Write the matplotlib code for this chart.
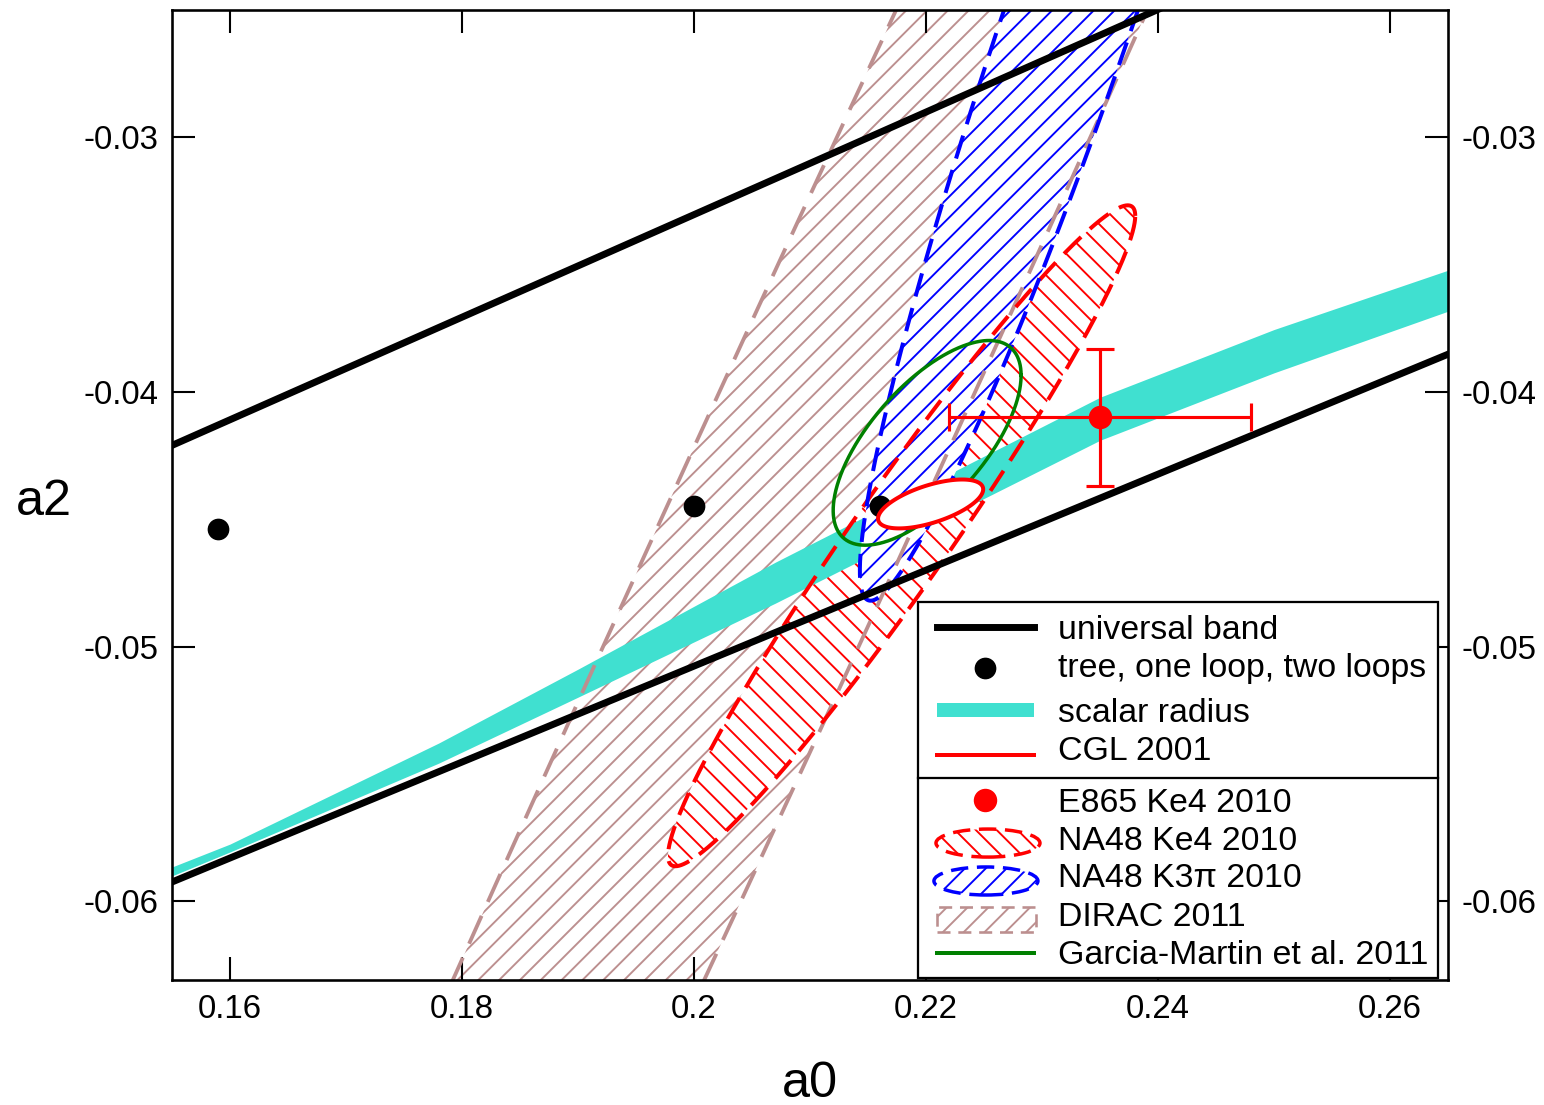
import numpy as np
import matplotlib
matplotlib.use('Agg')
import matplotlib.pyplot as plt
from matplotlib.patches import Rectangle, Ellipse
from matplotlib.lines import Line2D

plt.rcParams['font.family'] = ['Liberation Sans', 'DejaVu Sans']
plt.rcParams['hatch.linewidth'] = 1.1
plt.rcParams['axes.unicode_minus'] = False

# === DATA ===
# universal band (upper and lower edge)
upper_a0 = [0.155, 0.2394, 0.265]
upper_a2 = [-0.0421, -0.0251, -0.0199]
lower_a0 = [0.155, 0.265]
lower_a2 = [-0.05925, -0.03852]

# scalar radius band
sr_a0 = [0.155, 0.160, 0.178, 0.190, 0.207, 0.235, 0.250, 0.265]
sr_hi = [-0.05866, -0.05776, -0.05379, -0.05089, -0.04669, -0.04021, -0.03755, -0.03522]
sr_lo = [-0.05901, -0.05807, -0.05458, -0.05199, -0.04830, -0.04190, -0.03925, -0.03683]

# tree, one loop, two loops
chpt_a0 = [0.159, 0.200, 0.216]
chpt_a2 = [-0.0454, -0.0445, -0.0445]

# E865 Ke4 2010
e865_a0 = 0.235
e865_a2 = -0.0410
e865_da0 = 0.013
e865_da2 = 0.0027

# ellipses: centre a0, centre a2, sigma a0, sigma a2, correlation
cgl = [0.2204, -0.0444, 0.00453, 0.00096, 0.60]
garcia = [0.2201, -0.0420, 0.0081, 0.00402, 0.66]
na48_ke4 = [0.2179, -0.04565, 0.02014, 0.01298, 0.968]
na48_k3pi = [0.2328, -0.0246, 0.0185, 0.0236, 0.950]
dirac = [0.2091, -0.0441, 0.1009, 0.1000, 0.994]

xticks = [0.16, 0.18, 0.20, 0.22, 0.24, 0.26]
xticklabels = ['0.16', '0.18', '0.2', '0.22', '0.24', '0.26']
yticks = [-0.06, -0.05, -0.04, -0.03]
yticklabels = ['-0.06', '-0.05', '-0.04', '-0.03']


def ellipse_xy(c, n=6000):
    x0, y0, sx, sy, rho = c
    t = np.linspace(0, 2 * np.pi, n)
    x = x0 + sx * np.cos(t)
    y = y0 + sy * (rho * np.cos(t) + np.sqrt(1 - rho ** 2) * np.sin(t))
    return x, y


# === PLOT ===
fig = plt.figure(figsize=(12.352, 8.84), dpi=125)
ax = fig.add_axes([0.1114, 0.1131, 0.8264, 0.8778])

# DIRAC (hatch only)
dx, dy = ellipse_xy(dirac)
ax.fill(dx, dy, facecolor='none', edgecolor='rosybrown', linewidth=0, hatch='//', zorder=1)

# NA48 Ke4
kx, ky = ellipse_xy(na48_ke4)
ax.fill(kx, ky, facecolor='white', edgecolor='red', linewidth=0, hatch='\\\\', zorder=2)

# scalar radius
ax.fill_between(sr_a0, sr_lo, sr_hi, color='turquoise', linewidth=0, zorder=3)

# NA48 K3pi
bx, by = ellipse_xy(na48_k3pi)
ax.fill(bx, by, facecolor='white', edgecolor='blue', linewidth=0, hatch='//', zorder=4)

# dashed outlines
ax.plot(dx, dy, color='rosybrown', lw=2.2, ls=(0, (8, 4)), zorder=5)
ax.plot(kx, ky, color='red', lw=2.3, ls=(0, (6, 3)), zorder=5)
ax.plot(bx, by, color='blue', lw=2.3, ls=(0, (6, 3)), zorder=5)

# universal band
ax.plot(upper_a0, upper_a2, color='black', lw=4, zorder=6)
ax.plot(lower_a0, lower_a2, color='black', lw=4, zorder=6)

# Garcia-Martin et al.
gx, gy = ellipse_xy(garcia)
ax.plot(gx, gy, color='green', lw=2, zorder=6)

# tree, one loop, two loops
ax.plot(chpt_a0, chpt_a2, 'o', color='black', ms=11.5, zorder=7)

# CGL 2001
cx, cy = ellipse_xy(cgl)
ax.fill(cx, cy, facecolor='white', edgecolor='red', linewidth=2.3, zorder=8)

# E865
ax.errorbar(e865_a0, e865_a2, xerr=e865_da0, yerr=e865_da2, fmt='o', color='red',
            ms=12.5, lw=1.8, capsize=8, capthick=1.8, zorder=9)

ax.set_xlim(0.155, 0.265)
ax.set_ylim(-0.0631, -0.025)
ax.set_xticks(xticks)
ax.set_xticklabels(xticklabels)
ax.set_yticks(yticks)
ax.set_yticklabels(yticklabels)
ax.tick_params(direction='in', length=13, width=1.2, top=True, right=True,
               labelright=True, labelsize=19, pad=8)
for s in ax.spines.values():
    s.set_linewidth(1.5)
    s.set_zorder(30)

fig.text(44 / 1544, 1 - 515 / 1105, 'a2', fontsize=29, ha='center', va='baseline')
fig.text(810 / 1544, 1 - 1097 / 1105, 'a0', fontsize=29, ha='center', va='baseline')

# === LEGEND (drawn by hand) ===
T = ax.transAxes
z = 20
ax.add_patch(Rectangle((0.5846, 0.002), 0.9922 - 0.5846, 0.3897 - 0.002, transform=T,
                       facecolor='white', edgecolor='black', lw=1.3, zorder=z, clip_on=False))
ax.add_line(Line2D([0.5846, 0.9922], [0.2082, 0.2082], transform=T, color='black', lw=1.3, zorder=z + 1))

lx0, lx1, lxc = 0.5995, 0.6755, 0.6375
ax.add_line(Line2D([lx0, lx1], [0.3639, 0.3639], transform=T, color='black', lw=4, zorder=z + 1))
ax.add_line(Line2D([lxc], [0.3216], transform=T, marker='o', color='black', ms=11.5, zorder=z + 1))
ax.add_patch(Rectangle((lx0, 0.2784 - 0.0072), lx1 - lx0, 0.0144, transform=T,
                       facecolor='turquoise', lw=0, zorder=z + 1))
ax.add_line(Line2D([lx0, lx1], [0.2320, 0.2320], transform=T, color='red', lw=2.3, zorder=z + 1))
ax.add_line(Line2D([lxc], [0.1856], transform=T, marker='o', color='red', ms=12.5, zorder=z + 1))
ax.add_patch(Ellipse((0.6395, 0.1412), 0.0815, 0.0289, transform=T, facecolor='none',
                     edgecolor='red', lw=0, hatch='\\\\', zorder=z + 1))
ax.add_patch(Ellipse((0.6395, 0.1412), 0.0815, 0.0289, transform=T, facecolor='none',
                     edgecolor='red', lw=2.0, ls=(0, (5, 2.5)), zorder=z + 2))
ax.add_patch(Ellipse((0.6379, 0.1021), 0.0815, 0.0289, transform=T, facecolor='none',
                     edgecolor='blue', lw=0, hatch='//', zorder=z + 1))
ax.add_patch(Ellipse((0.6379, 0.1021), 0.0815, 0.0289, transform=T, facecolor='none',
                     edgecolor='blue', lw=2.0, ls=(0, (5, 2.5)), zorder=z + 2))
ax.add_patch(Rectangle((lx0, 0.0495), lx1 - lx0 + 0.002, 0.0258, transform=T, facecolor='none',
                       edgecolor='rosybrown', lw=0, hatch='//', zorder=z + 1))
ax.add_patch(Rectangle((lx0, 0.0495), lx1 - lx0 + 0.002, 0.0258, transform=T, facecolor='none',
                       edgecolor='rosybrown', lw=1.5, ls=(0, (5, 3)), zorder=z + 2))
ax.add_line(Line2D([lx0, lx1], [0.0278, 0.0278], transform=T, color='green', lw=2.3, zorder=z + 1))

labels = ['universal band', 'tree, one loop, two loops', 'scalar radius', 'CGL 2001',
          'E865 Ke4 2010', 'NA48 Ke4 2010', 'NA48 K3\u03c0 2010', 'DIRAC 2011',
          'Garcia-Martin et al. 2011']
baselines = [0.3515, 0.3124, 0.2660, 0.2268, 0.1732, 0.1340, 0.0959, 0.0557, 0.0165]
for lab, yb in zip(labels, baselines):
    ax.text(0.6944, yb, lab, transform=T, fontsize=19.5, va='baseline', ha='left', zorder=z + 3)

fig.savefig('out.png', dpi=125)
